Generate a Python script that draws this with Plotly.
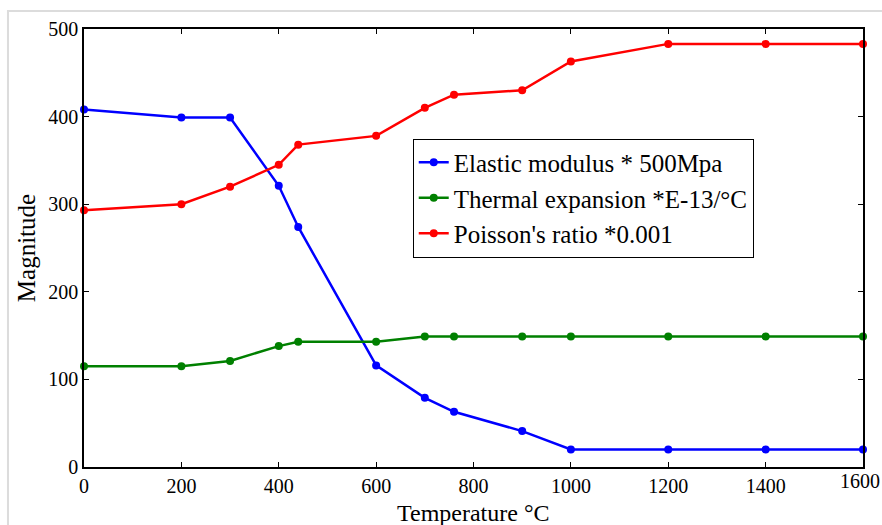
import plotly.graph_objects as go

temps = [0, 200, 300, 400, 440, 600, 700, 760, 900, 1000, 1200, 1400, 1600]
elastic = [408, 399, 399, 321, 274, 116, 79, 63, 41, 20, 20, 20, 20]
thermal = [115, 115, 121, 138, 143, 143, 149, 149, 149, 149, 149, 149, 149]
poisson = [293, 300, 320, 345, 368, 378, 410, 425, 430, 463, 483, 483, 483]

names = ["Elastic modulus * 500Mpa", "Thermal expansion *E-13/°C", "Poisson's ratio *0.001"]
colors = ["#0000ff", "#008000", "#ff0000"]
series = [elastic, thermal, poisson]
xticks = [0, 200, 400, 600, 800, 1000, 1200, 1400, 1600]
yticks = [0, 100, 200, 300, 400, 500]

fig = go.Figure()
for n, c, s in zip(names, colors, series):
    fig.add_trace(go.Scatter(x=temps, y=s, name=n, mode="lines+markers",
                             line=dict(color=c, width=2.5),
                             marker=dict(color=c, size=8), cliponaxis=False))

font = "Liberation Serif, Times New Roman, serif"
T, B = 29, 58
ph = 525 - T - B
fig.update_layout(
    width=882, height=525,
    margin=dict(l=84, r=19, t=T, b=B, autoexpand=False),
    paper_bgcolor="white", plot_bgcolor="white",
    font=dict(family=font, size=20, color="black"),
    showlegend=True,
    legend=dict(x=0.422, y=0.75, xanchor="left", yanchor="top",
                bgcolor="white", bordercolor="black", borderwidth=1,
                font=dict(family=font, size=25, color="black"),
                tracegroupgap=0, itemwidth=30),
    xaxis=dict(range=[0, 1600], tickvals=xticks[:-1], automargin=False,
               ticks="inside", ticklen=5, tickcolor="black", showline=True, linecolor="black",
               linewidth=1.5, mirror="ticks", showgrid=False, zeroline=False,
               tickfont=dict(size=20)),
    yaxis=dict(range=[0, 500], tickvals=yticks, automargin=False,
               ticks="inside", ticklen=5, tickcolor="black", showline=True, linecolor="black",
               linewidth=1.5, mirror="ticks", showgrid=False, zeroline=False,
               title=dict(text="Magnitude", standoff=6, font=dict(size=25)),
               tickfont=dict(size=20)),
)

# x axis title, placed at the bottom edge as in the reference
fig.add_annotation(x=0.5, y=-B / ph, xref="paper", yref="paper", yanchor="bottom",
                   text="Temperature °C", showarrow=False, yshift=-2, borderpad=0,
                   font=dict(family=font, size=24, color="black"))
# last x tick label, kept inside the page
fig.add_annotation(x=xticks[-1], y=0, xref="x", yref="paper", yanchor="top", xanchor="right",
                   text=str(xticks[-1]), showarrow=False, yshift=-1, xshift=19,
                   font=dict(family=font, size=20, color="black"))
fig.add_shape(type="rect", xref="paper", yref="paper",
              x0=-0.0976, x1=1.03, y0=(525 - 527 - B) / ph, y1=(525 - 11 - B) / ph,
              line=dict(color="#dcdcdc", width=2), layer="below")

fig.write_html("out.html")
